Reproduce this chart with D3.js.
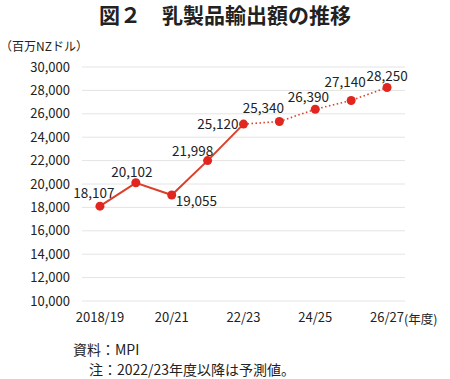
<!DOCTYPE html>
<html>
<head>
<meta charset="utf-8">
<script src="https://cdn.jsdelivr.net/npm/d3@7"></script>
<style>
  body { margin: 0; background: #fff; }
  text { font-family: "Noto Sans CJK JP", "Noto Sans", sans-serif; fill: #222; }
</style>
</head>
<body>
<div id="chart"></div>
<script>
// Data
const years = ["2018/19", "19/20", "20/21", "21/22", "22/23", "23/24", "24/25", "25/26", "26/27"];
const values = [18107, 20102, 19055, 21998, 25120, 25340, 26390, 27140, 28250];
const tickYears = ["2018/19", "20/21", "22/23", "24/25", "26/27"];
const yTicks = [10000, 12000, 14000, 16000, 18000, 20000, 22000, 24000, 26000, 28000, 30000];
const forecastFrom = "22/23";

// Label placement per point [dx, dy, anchor]
const labelPos = [
  [-6, -8, "middle"], [-4, -6, "middle"], [4, 11, "start"], [-15, -5, "middle"],
  [-5, 5, "end"], [-16, -9, "middle"], [-7, -7, "middle"], [-6, -13, "middle"], [0, -6, "middle"]
];

const width = 450;
const height = 379;
const margin = { left: 82, right: 45, top: 67, bottom: 78 };

const svg = d3.select("#chart")
  .append("svg")
    .attr("width", width)
    .attr("height", height);

const x = d3.scaleBand()
  .domain(years)
  .range([margin.left, width - margin.right]);

const y = d3.scaleLinear()
  .domain([10000, 30000])
  .range([height - margin.bottom, margin.top]);

const cx = d => x(d) + x.bandwidth() / 2;

// Title
svg.append("text")
  .attr("x", 225)
  .attr("y", 23)
  .attr("text-anchor", "middle")
  .style("font-size", "21px")
  .style("font-weight", 700)
  .text("図２　乳製品輸出額の推移");

svg.append("text")
  .attr("x", 0)
  .attr("y", 51)
  .style("font-size", "12px")
  .text("（百万NZドル）");

// Gridlines
svg.append("g")
  .selectAll("line")
  .data(yTicks)
  .join("line")
    .attr("x1", margin.left)
    .attr("x2", width - margin.right)
    .attr("y1", d => y(d))
    .attr("y2", d => y(d))
    .attr("stroke", "#e4e4e4")
    .attr("stroke-width", 1);

// Y axis
const yAxis = svg.append("g")
  .attr("transform", `translate(${margin.left - 12},0)`)
  .call(d3.axisLeft(y).tickValues(yTicks).tickFormat(d3.format(",")).tickSize(0).tickPadding(0));
yAxis.select(".domain").remove();
yAxis.selectAll("text")
  .style("font-size", "13px")
  .style("font-family", "\"Noto Sans CJK JP\", sans-serif")
  .attr("fill", "#222");

// X axis
const xAxis = svg.append("g")
  .attr("transform", `translate(0,${height - margin.bottom})`)
  .call(d3.axisBottom(x).tickValues(tickYears).tickSize(0).tickPadding(12));
xAxis.select(".domain").remove();
xAxis.selectAll("text")
  .style("font-size", "13px")
  .style("font-family", "\"Noto Sans CJK JP\", sans-serif")
  .attr("fill", "#222");

svg.append("text")
  .attr("x", cx("26/27") + 17)
  .attr("y", height - margin.bottom + 23)
  .style("font-size", "12.5px")
  .text("(年度)");

// Lines
const points = years.map((d, i) => ({ year: d, value: values[i], i }));
const split = years.indexOf(forecastFrom);
const line = d3.line().x(d => cx(d.year)).y(d => y(d.value));

svg.append("path")
  .datum(points.slice(0, split + 1))
  .attr("fill", "none")
  .attr("stroke", "#d9412b")
  .attr("stroke-width", 2)
  .attr("d", line);

svg.append("path")
  .datum(points.slice(split))
  .attr("fill", "none")
  .attr("stroke", "#d9412b")
  .attr("stroke-width", 1.6)
  .attr("stroke-dasharray", "1.5,2.5")
  .attr("d", line);

svg.append("g")
  .selectAll("circle")
  .data(points)
  .join("circle")
    .attr("cx", d => cx(d.year))
    .attr("cy", d => y(d.value))
    .attr("r", 4.5)
    .attr("fill", "#e0261e");

// Data labels
svg.append("g")
  .selectAll("text")
  .data(points)
  .join("text")
    .attr("x", d => cx(d.year) + labelPos[d.i][0])
    .attr("y", d => y(d.value) + labelPos[d.i][1])
    .attr("text-anchor", d => labelPos[d.i][2])
    .style("font-size", "13.5px")
    .text(d => d3.format(",")(d.value));

// Notes
svg.append("text")
  .attr("x", 73)
  .attr("y", 355)
  .style("font-size", "14px")
  .text("資料：MPI");

svg.append("text")
  .attr("x", 89)
  .attr("y", 375)
  .style("font-size", "14px")
  .text("注：2022/23年度以降は予測値。");
</script>
</body>
</html>
